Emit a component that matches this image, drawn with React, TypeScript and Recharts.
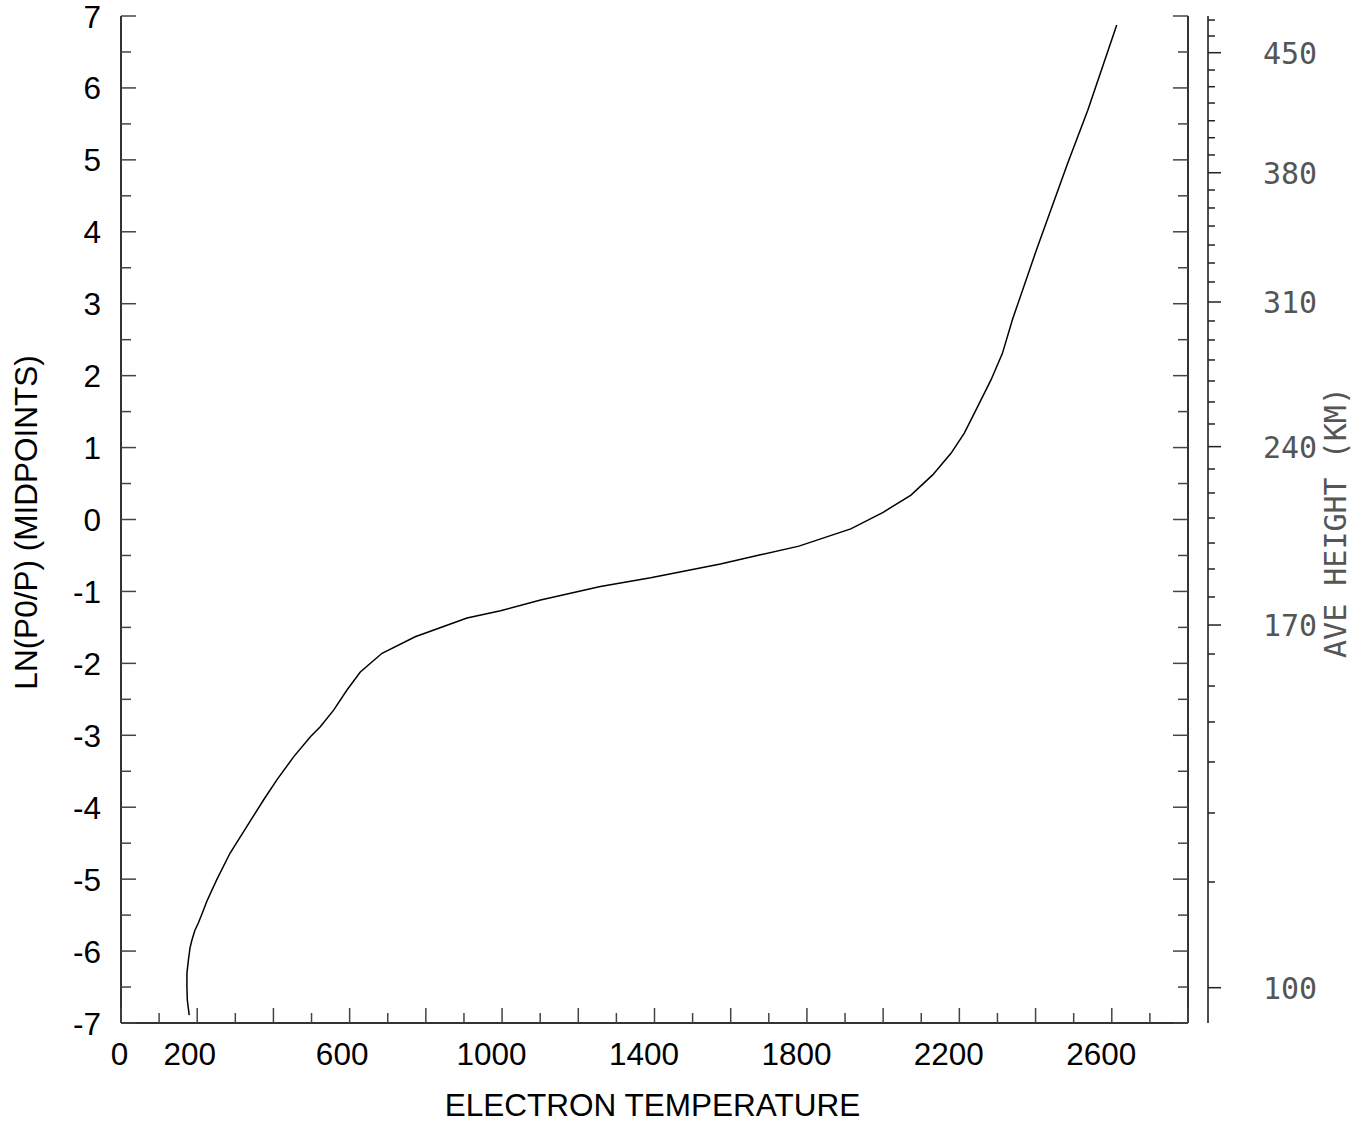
import React from 'react';
import { LineChart, Line, XAxis, YAxis } from 'recharts';

// Curve: electron temperature vs ln(P0/P) (midpoints), ordered by ln value
const temperature = [
  179, 174, 173, 173, 177, 181, 186, 194, 203, 215, 225, 251, 286, 330, 374, 409, 453, 497, 523,
  558, 593, 628, 685, 772, 908, 996, 1101, 1258, 1390, 1573, 1678, 1779, 1915, 2000, 2073, 2130,
  2178, 2213, 2248, 2283, 2313, 2340, 2405, 2484, 2537, 2613,
];
const lnP0P = [
  -6.89, -6.68, -6.5, -6.31, -6.12, -5.96, -5.85, -5.71, -5.61, -5.45, -5.31, -5.01, -4.64, -4.27,
  -3.9, -3.62, -3.3, -3.02, -2.88, -2.65, -2.37, -2.12, -1.86, -1.63, -1.37, -1.27, -1.12, -0.93,
  -0.81, -0.62, -0.49, -0.37, -0.13, 0.1, 0.34, 0.62, 0.92, 1.2, 1.57, 1.94, 2.31, 2.79, 3.79,
  4.95, 5.69, 6.875,
];

// Bottom/top axis ticks
const xTicks = [0, 100, 200, 300, 400, 500, 600, 700, 800, 900, 1000, 1100, 1200, 1300, 1400, 1500, 1600, 1700, 1800, 1900, 2000, 2100, 2200, 2300, 2400, 2500, 2600, 2700, 2800];
const xLabels = [0, 200, 600, 1000, 1400, 1800, 2200, 2600];
// Left axis ticks
const yTicks = [-7, -6.5, -6, -5.5, -5, -4.5, -4, -3.5, -3, -2.5, -2, -1.5, -1, -0.5, 0, 0.5, 1, 1.5, 2, 2.5, 3, 3.5, 4, 4.5, 5, 5.5, 6, 6.5, 7];
const yLabels = [-7, -6, -5, -4, -3, -2, -1, 0, 1, 2, 3, 4, 5, 6, 7];
// Right axis: average height (km) and the ln(P0/P) level where each tick sits
const heightTicks = [470, 460, 450, 440, 430, 420, 410, 400, 390, 380, 370, 360, 350, 340, 330, 320, 310, 300, 290, 280, 270, 260, 250, 240, 230, 220, 210, 200, 190, 180, 170, 160, 150, 140, 130, 120, 110, 100];
const heightTickLn = [6.944, 6.722, 6.49, 6.249, 6.017, 5.79, 5.544, 5.308, 5.068, 4.821, 4.581, 4.331, 4.08, 3.816, 3.566, 3.302, 3.024, 2.76, 2.496, 2.218, 1.926, 1.634, 1.328, 1.013, 0.702, 0.369, 0.021, -0.327, -0.688, -1.077, -1.467, -1.87, -2.315, -2.815, -3.371, -4.08, -5.04, -6.509];
const heightLabels = [100, 170, 240, 310, 380, 450];

const data = temperature.map((t, i) => ({ t, ln: lnP0P[i] }));

const SANS = '"Liberation Sans", Arial, sans-serif';
const MONO = '"DejaVu Sans Mono", "Liberation Mono", monospace';
const TICK = '#444';
const FS = 31.5;

const isMajorX = (v: number) => v % 200 === 0;
const isMajorY = (v: number) => Number.isInteger(v);

const BottomTick = (props: any) => {
  const { x, y, payload } = props;
  const v = payload.value as number;
  const len = isMajorX(v) ? 15 : 10;
  const show = xLabels.includes(v);
  const s = String(v);
  return (
    <g>
      <line x1={x} x2={x} y1={y} y2={y - len} stroke={TICK} strokeWidth={1.5} />
      {show && (
        <text x={x - (3 * s.length - 1.5)} y={y + 42} textAnchor="middle" fontFamily={SANS} fontSize={FS} fill="#000">
          {s}
        </text>
      )}
    </g>
  );
};

const TopTick = (props: any) => {
  const { x, y, payload } = props;
  const v = payload.value as number;
  const len = isMajorX(v) ? 15 : 10;
  return <line x1={x} x2={x} y1={y} y2={y + len} stroke={TICK} strokeWidth={1.5} />;
};

const LeftTick = (props: any) => {
  const { x, y, payload } = props;
  const v = payload.value as number;
  const edge = x + 20;
  const len = isMajorY(v) ? 15 : 10;
  const show = yLabels.includes(v);
  return (
    <g>
      <line x1={edge} x2={edge + len} y1={y} y2={y} stroke={TICK} strokeWidth={1.5} />
      {show && (
        <text x={x} y={y} dy={11.5} textAnchor="end" fontFamily={SANS} fontSize={FS} fill="#000">
          {String(v)}
        </text>
      )}
    </g>
  );
};

const RightInnerTick = (props: any) => {
  const { x, y, payload } = props;
  const v = payload.value as number;
  const len = isMajorY(v) ? 15 : 10;
  return <line x1={x} x2={x - len} y1={y} y2={y} stroke={TICK} strokeWidth={1.5} />;
};

const HeightTick = (props: any) => {
  const { x, y, payload } = props;
  const v = payload.value as number;
  let idx = 0;
  let best = Infinity;
  heightTickLn.forEach((l, i) => {
    const d = Math.abs(l - v);
    if (d < best) {
      best = d;
      idx = i;
    }
  });
  const h = heightTicks[idx];
  const major = heightLabels.includes(h);
  return (
    <g>
      <line x1={x} x2={x + (major ? 13 : 7)} y1={y} y2={y} stroke="#222" strokeWidth={1.5} />
      {major && (
        <text x={x + 55} y={y} dy={11} textAnchor="start" fontFamily={MONO} fontWeight={200} fontSize={30} fill="#555">
          {String(h)}
        </text>
      )}
    </g>
  );
};

export default function App() {
  return (
    <div style={{ position: 'absolute', left: 0, top: 0, width: 1365, height: 1123, background: '#fff' }}>
      <LineChart width={1365} height={1123} data={data} margin={{ top: 16, right: 0, bottom: 0, left: 0 }}>
        <XAxis
          xAxisId="b"
          dataKey="t"
          type="number"
          domain={[0, 2800]}
          allowDataOverflow
          ticks={xTicks}
          interval={0}
          orientation="bottom"
          height={100}
          tickSize={0}
          tickMargin={0}
          tickLine={false}
          axisLine={{ stroke: '#333', strokeWidth: 2 }}
          tick={<BottomTick />}
          label={{
            content: (p: any) => {
              const vb = p.viewBox || {};
              return (
                <text x={vb.x + vb.width / 2 - 2} y={vb.y + 93} textAnchor="middle" fontFamily={SANS} fontSize={FS} fill="#000">
                  ELECTRON TEMPERATURE
                </text>
              );
            },
          }}
        />
        <XAxis
          xAxisId="t"
          type="number"
          domain={[0, 2800]}
          allowDataOverflow
          ticks={xTicks}
          interval={0}
          orientation="top"
          height={0}
          tickSize={0}
          tickMargin={0}
          tickLine={false}
          axisLine={{ stroke: '#333', strokeWidth: 2 }}
          tick={<TopTick />}
        />
        <YAxis
          yAxisId="l"
          type="number"
          domain={[-7, 7]}
          allowDataOverflow
          ticks={yTicks}
          interval={0}
          orientation="left"
          width={121}
          tickSize={0}
          tickMargin={20}
          tickLine={false}
          axisLine={{ stroke: '#333', strokeWidth: 2 }}
          tick={<LeftTick />}
          label={{
            content: (p: any) => {
              const vb = p.viewBox || {};
              const cy = vb.y + vb.height / 2 + 3;
              return (
                <text x={37} y={cy} transform={`rotate(-90, 37, ${cy})`} textAnchor="middle" fontFamily={SANS} fontSize={FS} fill="#000">
                  LN(P0/P) (MIDPOINTS)
                </text>
              );
            },
          }}
        />
        <YAxis
          yAxisId="ri"
          type="number"
          domain={[-7, 7]}
          allowDataOverflow
          ticks={yTicks}
          interval={0}
          orientation="right"
          width={20}
          tickSize={0}
          tickMargin={0}
          tickLine={false}
          axisLine={{ stroke: '#333', strokeWidth: 2 }}
          tick={<RightInnerTick />}
        />
        <YAxis
          yAxisId="ro"
          type="number"
          domain={[-7, 7]}
          allowDataOverflow
          ticks={heightTickLn}
          interval={0}
          orientation="right"
          width={157}
          tickSize={0}
          tickMargin={0}
          tickLine={false}
          axisLine={{ stroke: '#111', strokeWidth: 1.5 }}
          tick={<HeightTick />}
          label={{
            content: (p: any) => {
              const vb = p.viewBox || {};
              const cy = vb.y + vb.height / 2 + 3;
              return (
                <text x={1346} y={cy} transform={`rotate(-90, 1346, ${cy})`} textAnchor="middle" fontFamily={MONO} fontWeight={200} fontSize={30} fill="#555">
                  AVE HEIGHT (KM)
                </text>
              );
            },
          }}
        />
        <Line
          xAxisId="b"
          yAxisId="l"
          dataKey="ln"
          type="linear"
          stroke="#000"
          strokeWidth={1.5}
          dot={false}
          isAnimationActive={false}
        />
        <Line xAxisId="t" yAxisId="ri" dataKey="ln" stroke="none" dot={false} isAnimationActive={false} />
        <Line xAxisId="t" yAxisId="ro" dataKey="ln" stroke="none" dot={false} isAnimationActive={false} />
      </LineChart>
    </div>
  );
}
